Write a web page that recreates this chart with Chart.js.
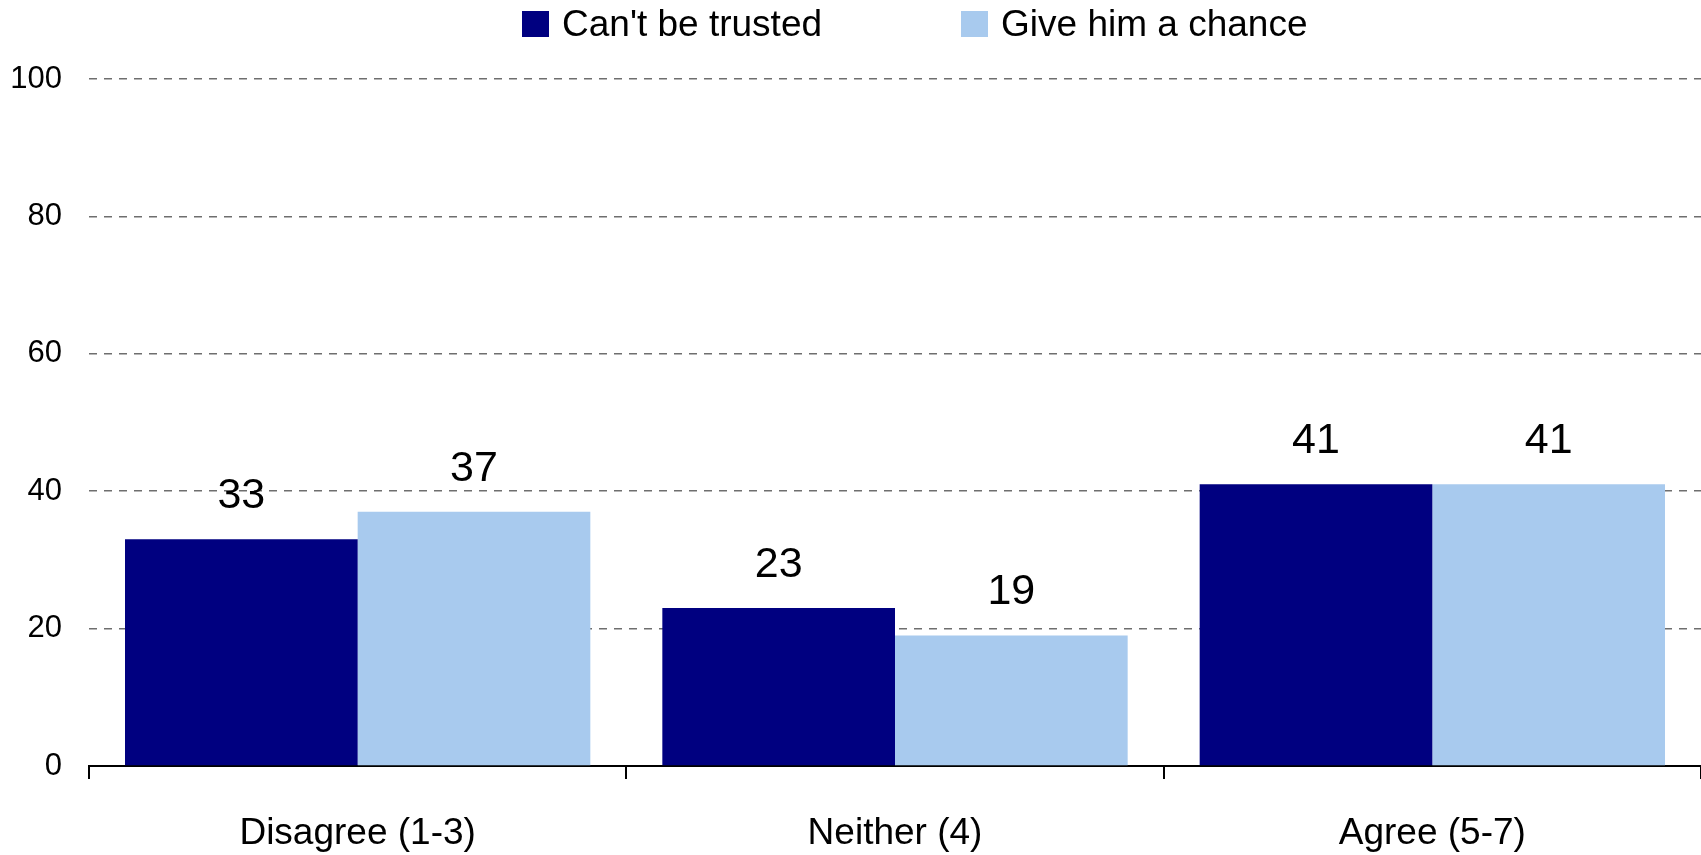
<!DOCTYPE html>
<html>
<head>
<meta charset="utf-8">
<script src="https://cdn.jsdelivr.net/npm/chart.js@4"></script>
<style>
  body { margin: 0; background: #fff; }
  #wrap { position: relative; width: 1701px; height: 855px; }
  #legend { position: absolute; left: 522px; top: 6px; display: flex; gap: 139px;
            font-family: "Liberation Sans", Arial, sans-serif; font-size: 37px; color: #000; }
  .item { display: flex; align-items: center; height: 36px; }
  .box { width: 27px; height: 26px; margin-right: 13px; }
</style>
</head>
<body>
<div id="wrap">
  <canvas id="trustChart" width="1701" height="855"></canvas>
  <div id="legend"></div>
</div>
<script>
// Data
const categories = ['Disagree (1-3)', 'Neither (4)', 'Agree (5-7)'];
const cantBeTrusted = [33, 23, 41];
const giveHimAChance = [37, 19, 41];
const seriesNames = ["Can't be trusted", 'Give him a chance'];
const yTicks = [0, 20, 40, 60, 80, 100];

const colors = ['#000080', '#A8CAEE'];
const fontFamily = '"Liberation Sans", Arial, sans-serif';

// Legend (html)
const legendEl = document.getElementById('legend');
seriesNames.forEach((name, i) => {
    const item = document.createElement('div');
    item.className = 'item';
    const box = document.createElement('span');
    box.className = 'box';
    box.style.background = colors[i];
    const label = document.createElement('span');
    label.textContent = name;
    item.appendChild(box);
    item.appendChild(label);
    legendEl.appendChild(item);
});

// Value labels above each bar
const valueLabels = {
    id: 'valueLabels',
    afterDatasetsDraw(chart) {
        const ctx = chart.ctx;
        ctx.save();
        ctx.font = '43px ' + fontFamily;
        ctx.fillStyle = '#000';
        ctx.textAlign = 'center';
        ctx.textBaseline = 'alphabetic';
        chart.data.datasets.forEach((ds, i) => {
            chart.getDatasetMeta(i).data.forEach((bar, j) => {
                ctx.fillText(ds.data[j], bar.x, bar.y - 31);
            });
        });
        ctx.restore();
    }
};

new Chart(document.getElementById('trustChart'), {
    type: 'bar',
    data: {
        labels: categories,
        datasets: [{
            label: seriesNames[0],
            data: cantBeTrusted,
            backgroundColor: colors[0]
        }, {
            label: seriesNames[1],
            data: giveHimAChance,
            backgroundColor: colors[1]
        }]
    },
    options: {
        responsive: false,
        animation: false,
        layout: { padding: { top: 79, left: 0, right: 0, bottom: 0 } },
        datasets: {
            bar: { categoryPercentage: 0.866, barPercentage: 1.0 }
        },
        plugins: {
            legend: { display: false },
            tooltip: { enabled: false }
        },
        scales: {
            x: {
                grid: {
                    offset: true,
                    drawOnChartArea: false,
                    drawTicks: true,
                    tickLength: 13,
                    color: '#000',
                    lineWidth: 2
                },
                border: { display: true, color: '#000', width: 2 },
                ticks: {
                    color: '#000',
                    font: { family: fontFamily, size: 37 },
                    padding: 33,
                    maxRotation: 0
                },
                afterFit(scale) { scale.height = 89; }
            },
            y: {
                min: 0,
                max: 100,
                afterBuildTicks(scale) {
                    scale.ticks = yTicks.map(v => ({ value: v }));
                },
                grid: {
                    drawTicks: false,
                    color: ctx => ctx.tick && ctx.tick.value === 0 ? 'rgba(0,0,0,0)' : '#6e6e6e',
                    lineWidth: 1.5
                },
                border: { display: false, dash: [8, 7] },
                ticks: {
                    color: '#000',
                    font: { family: fontFamily, size: 31 },
                    padding: 27
                },
                afterFit(scale) { scale.width = 89; }
            }
        }
    },
    plugins: [valueLabels]
});
</script>
</body>
</html>
